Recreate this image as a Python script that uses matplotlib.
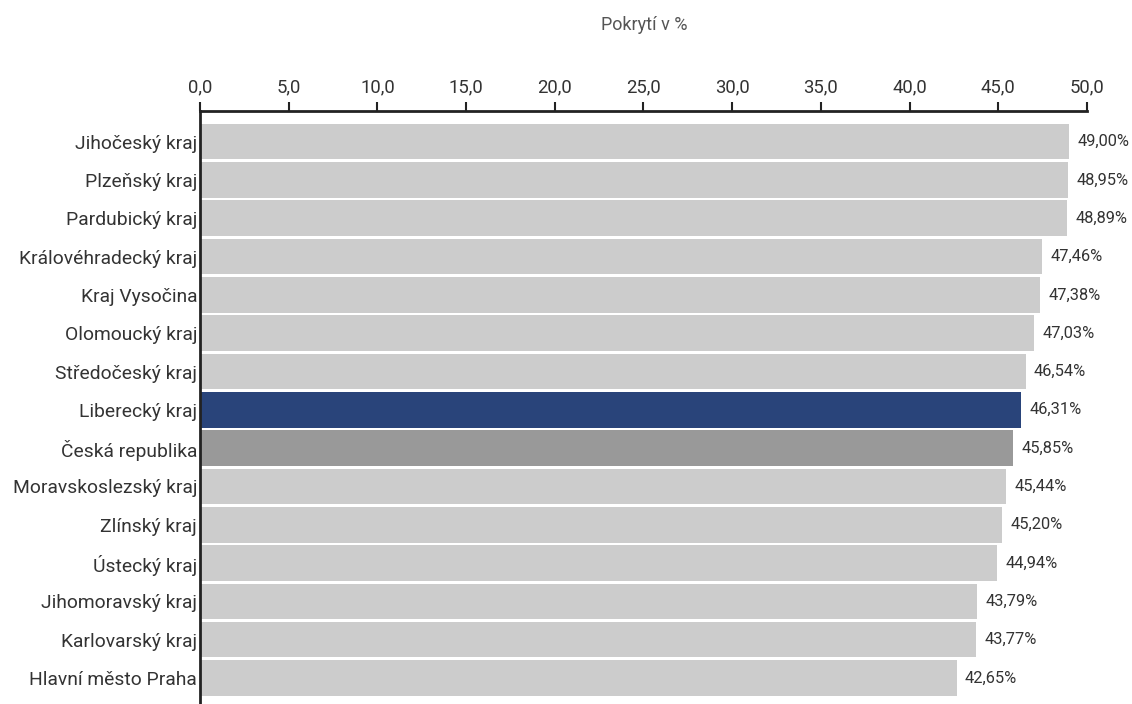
import matplotlib.pyplot as plt
from matplotlib.ticker import FuncFormatter

# Data
regions = ['Jihočeský kraj', 'Plzeňský kraj', 'Pardubický kraj', 'Královéhradecký kraj',
           'Kraj Vysočina', 'Olomoucký kraj', 'Středočeský kraj', 'Liberecký kraj',
           'Česká republika', 'Moravskoslezský kraj', 'Zlínský kraj', 'Ústecký kraj',
           'Jihomoravský kraj', 'Karlovarský kraj', 'Hlavní město Praha']
coverage = [49.00, 48.95, 48.89, 47.46, 47.38, 47.03, 46.54, 46.31,
            45.85, 45.44, 45.20, 44.94, 43.79, 43.77, 42.65]
xticks = [0, 5, 10, 15, 20, 25, 30, 35, 40, 45, 50]

plt.rcParams['font.family'] = ['Roboto', 'DejaVu Sans']

colors = []
for r in regions:
    if r == 'Liberecký kraj':
        colors.append('#29447a')
    elif r == 'Česká republika':
        colors.append('#999999')
    else:
        colors.append('#cccccc')

fig = plt.figure(figsize=(11.32, 7.04), dpi=100)
ax = fig.add_axes([0.1767, 0.0, 0.9602 - 0.1767, 0.8423])

y = list(range(len(regions)))
ax.barh(y, coverage, height=0.93, color=colors)

ax.set_xlim(0, 50)
ax.set_ylim(len(regions) - 1 + 0.68, -0.80)

ax.xaxis.tick_top()
ax.set_xticks(xticks)
ax.xaxis.set_major_formatter(FuncFormatter(lambda v, p: f'{v:.1f}'.replace('.', ',')))
ax.tick_params(axis='x', direction='out', length=6.5, width=1.5, color='#222222',
               labelsize=13.3, labelcolor='#333333', pad=4)
ax.set_yticks(y)
ax.set_yticklabels(regions)
ax.tick_params(axis='y', length=0, labelsize=13.9, labelcolor='#333333', pad=2)

for s in ['right', 'bottom']:
    ax.spines[s].set_visible(False)
ax.spines['top'].set_linewidth(2)
ax.spines['left'].set_linewidth(2)
ax.spines['top'].set_color('#222222')
ax.spines['left'].set_color('#222222')

for yi, v in zip(y, coverage):
    ax.annotate(f'{v:.2f}%'.replace('.', ','), (v, yi), xytext=(6, 0),
                textcoords='offset points', va='center', ha='left',
                fontsize=11.8, color='#333333')

fig.text(0.5695, 1 - 25 / 704, 'Pokrytí v %', ha='center', va='center',
         fontsize=13, color='#555555')

fig.savefig('out.png', dpi=100, facecolor='white')
